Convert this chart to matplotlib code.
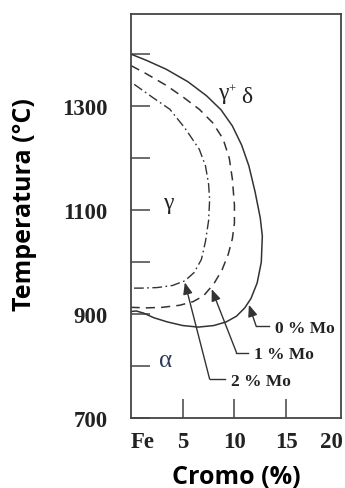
import numpy as np
import matplotlib
matplotlib.use("Agg")
import matplotlib.pyplot as plt
from matplotlib.transforms import ScaledTranslation

# phase boundaries, (Cr %, T in C)
cr_0mo = [0, 1.5, 3.4, 5.5, 7.3, 8.7, 9.8, 10.7, 11.4, 12.0, 12.5, 12.7, 12.6, 12.2,
          11.6, 11.0, 10.2, 9.2, 8.0, 6.5, 5.0, 3.5, 2.2, 1.2, 0.5, 0]
t_0mo = [1400, 1388, 1371, 1347, 1320, 1293, 1262, 1225, 1185, 1135, 1085, 1050, 1000, 960,
         930, 912, 896, 885, 878, 875, 878, 885, 893, 902, 906, 905]

cr_1mo = [0, 1.5, 3.4, 5.0, 6.6, 7.9, 8.9, 9.5, 9.8, 10.0, 10.0, 9.8, 9.4, 8.8, 8.0,
          7.0, 6.0, 4.7, 3.0, 1.5, 0]
t_1mo = [1378, 1362, 1340, 1318, 1294, 1268, 1237, 1200, 1160, 1110, 1075, 1045, 1015, 985, 958,
         935, 924, 917, 913, 912, 913]

cr_2mo = [0.3, 2.0, 3.75, 5.2, 6.6, 7.2, 7.5, 7.6, 7.5, 7.2, 6.8, 6.1, 5.2, 4.0, 2.5, 1.0, 0]
t_2mo = [1342, 1318, 1294, 1258, 1217, 1185, 1150, 1120, 1080, 1040, 1005, 980, 964, 955, 951, 950, 950]

# leader lines: arrow head on curve, elbow, end of horizontal run
labels = ["0 % Mo", "1 % Mo", "2 % Mo"]
heads = [(11.4, 918), (7.8, 948), (5.2, 961)]
elbows = [(12.1, 877), (10.2, 826), (7.6, 775)]
ends = [(13.3, 877), (11.3, 826), (9.1, 775)]

xticks = [0, 5, 10, 15, 20]
xticklabels = ["Fe", "5", "10", "15", "20"]
yticks = [700, 800, 900, 1000, 1100, 1200, 1300, 1400]
yticklabels = ["700", "", "900", "", "1100", "", "1300", ""]

line_c = "#333333"
txt_c = "#222222"
serif = "Liberation Serif"

fig = plt.figure(figsize=(3.45, 4.89), dpi=100)
ax = fig.add_axes([0.380, 0.143, 0.608, 0.826])

ax.plot(cr_0mo, t_0mo, color=line_c, lw=1.1, ls="-")
ax.plot(cr_1mo, t_1mo, color=line_c, lw=1.1, ls=(0, (6, 4)))
ax.plot(cr_2mo, t_2mo, color=line_c, lw=1.0, ls=(0, (7, 2.5, 1.2, 2.5)))

for lab, h, e, f in zip(labels, heads, elbows, ends):
    ax.annotate("", xy=h, xytext=e,
                arrowprops=dict(arrowstyle="-|>,head_length=0.5,head_width=0.2", color=line_c,
                                lw=1.0, mutation_scale=14, shrinkA=0, shrinkB=0))
    ax.plot([e[0], f[0]], [e[1], f[1]], color=line_c, lw=1.0)
    ax.text(f[0] + 0.6, f[1] - 3, lab, fontfamily=serif, fontweight="bold",
            fontsize=12.5, ha="left", va="center", color=txt_c)

# phase fields
ax.text(8.9, 1327, "γ", fontfamily=serif, fontsize=17, ha="center", va="center", color=txt_c)
ax.text(9.8, 1333, "+", fontfamily=serif, fontsize=9, ha="center", va="center", color=txt_c)
ax.text(11.2, 1318, "δ", fontfamily=serif, fontsize=17, ha="center", va="center", color=txt_c)
ax.text(3.6, 1115, "γ", fontfamily=serif, fontsize=17, ha="center", va="center", color=txt_c)
ax.text(3.3, 812, "α", fontfamily=serif, fontsize=18, ha="center", va="center", color="#2b3a5c")

ax.set_xlim(0, 20.3)
ax.set_ylim(700, 1477)

ax.set_xticks(xticks)
ax.set_xticklabels(xticklabels)
ax.set_yticks(yticks)
ax.set_yticklabels(yticklabels)
ax.tick_params(axis="x", direction="in", length=14, width=1.1, color="#444444", pad=9)
ax.tick_params(axis="y", direction="in", length=14, width=1.1, color="#444444", pad=17)
xt = ax.get_xticklines()
xt[0].set_visible(False)
xt[-2].set_visible(False)
for lbl in ax.get_xticklabels() + ax.get_yticklabels():
    lbl.set_fontfamily(serif)
    lbl.set_fontweight("bold")
    lbl.set_fontsize(16.5)
    lbl.set_color(txt_c)
xlbls = ax.get_xticklabels()
xlbls[0].set_horizontalalignment("left")
xlbls[-1].set_horizontalalignment("right")
xlbls[-1].set_transform(xlbls[-1].get_transform() + ScaledTranslation(4 / 72, 0, fig.dpi_scale_trans))

for sp in ax.spines.values():
    sp.set_color("#444444")
    sp.set_linewidth(1.3)

ax.set_xlabel("Cromo (%)", fontfamily="Open Sans", fontweight="bold", fontsize=18)
ax.set_ylabel("Temperatura (°C)", fontfamily="Open Sans", fontweight="bold", fontsize=18)
ax.xaxis.set_label_coords(0.5, -0.113)
ax.yaxis.set_label_coords(-0.45, 0.53)

fig.savefig("out.png", dpi=100, facecolor="white")
